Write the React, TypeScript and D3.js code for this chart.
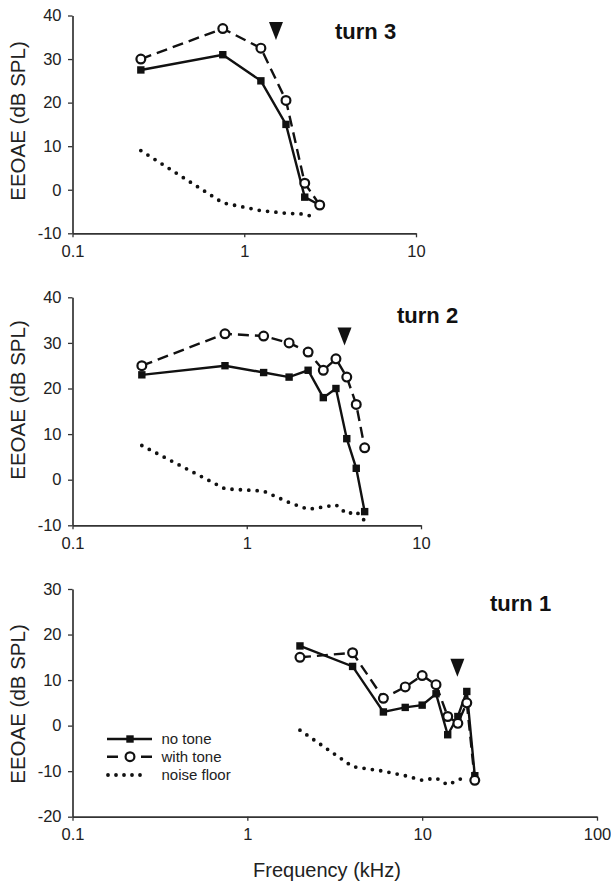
import * as d3 from "d3";
import { useEffect, useRef } from "react";

// turn 3 (apical)
const turn3Freq = [0.25, 0.75, 1.25, 1.75, 2.25, 2.75];
const turn3NoTone = [27.5, 31, 25, 15, -1.7, -3.5];
const turn3WithTone = [30, 37, 32.5, 20.5, 1.5, -3.5];
const turn3NoiseFreq = [0.25, 0.75, 1.25, 1.75, 2.25, 2.5];
const turn3Noise = [9, -3, -4.8, -5.4, -5.6, -6.2];

// turn 2
const turn2Freq = [0.25, 0.75, 1.25, 1.75, 2.25, 2.75, 3.25, 3.75, 4.25, 4.75];
const turn2NoTone = [23, 25, 23.5, 22.5, 24, 18, 20, 9, 2.5, -7];
const turn2WithTone = [25, 32, 31.5, 30, 28, 24, 26.5, 22.5, 16.5, 7];
const turn2NoiseFreq = [0.25, 0.75, 1.25, 1.75, 2.25, 2.75, 3.25, 3.75, 4.25, 4.75];
const turn2Noise = [7.5, -2, -2.5, -5, -6.5, -6, -5.5, -7.5, -7, -9];

// turn 1 (basal)
const turn1Freq = [2, 4, 6, 8, 10, 12, 14, 16, 18, 20];
const turn1NoTone = [17.5, 13, 3, 4, 4.5, 7, -2, 2, 7.5, -11];
const turn1WithTone = [15, 16, 6, 8.5, 11, 9, 2, 0.5, 5, -12];
const turn1NoiseFreq = [2, 4, 6, 8, 10, 12, 14, 16, 18];
const turn1Noise = [-1, -9, -10, -11, -12, -11.5, -13, -12, -11];

// arrowheads (tone frequency) and their level
const markerFreq = [1.53, 3.64, 15.9];
const markerLevel = [38.5, 33.4, 14.7];

const titles = ["turn 3", "turn 2", "turn 1"];
const xTicksShort = [0.1, 1, 10];
const xTicksLong = [0.1, 1, 10, 100];
const legendLabels = ["no tone", "with tone", "noise floor"];

const FONT = "'Liberation Sans', Arial, Helvetica, sans-serif";
const AXIS_X = 72.5;

const panels = [
  {
    title: titles[0], freq: turn3Freq, noTone: turn3NoTone, withTone: turn3WithTone,
    noiseFreq: turn3NoiseFreq, noise: turn3Noise, mf: markerFreq[0], ml: markerLevel[0],
    xTicks: xTicksShort, yMin: -10, yMax: 40, top: 15.5, bottom: 233.3, right: 416,
    titleX: 335, titleY: 39, labelY: 121,
  },
  {
    title: titles[1], freq: turn2Freq, noTone: turn2NoTone, withTone: turn2WithTone,
    noiseFreq: turn2NoiseFreq, noise: turn2Noise, mf: markerFreq[1], ml: markerLevel[1],
    xTicks: xTicksShort, yMin: -10, yMax: 40, top: 297.3, bottom: 525.3, right: 421,
    titleX: 397, titleY: 323, labelY: 400,
  },
  {
    title: titles[2], freq: turn1Freq, noTone: turn1NoTone, withTone: turn1WithTone,
    noiseFreq: turn1NoiseFreq, noise: turn1Noise, mf: markerFreq[2], ml: markerLevel[2],
    xTicks: xTicksLong, yMin: -20, yMax: 30, top: 589, bottom: 816.7, right: 597,
    titleX: 490, titleY: 611, labelY: 704, legend: true,
  },
];

const styleAxis = (g) => {
  g.attr("font-family", FONT).attr("font-size", 16.5);
  g.select(".domain").attr("stroke", "#333").attr("stroke-width", 1.7);
  g.selectAll(".tick line").attr("stroke", "#333").attr("stroke-width", 1.3);
  g.selectAll(".tick text").attr("fill", "#222");
};

const Panel = ({ p }) => {
  const gx = useRef(null);
  const gy = useRef(null);
  const x = d3.scaleLog([0.1, p.xTicks[p.xTicks.length - 1]], [AXIS_X, p.right]);
  const y = d3.scaleLinear([p.yMin, p.yMax], [p.bottom, p.top]);

  useEffect(() => {
    d3.select(gx.current)
      .call(
        d3.axisBottom(x).tickValues(p.xTicks).tickFormat((d) => String(d))
          .tickSize(4).tickSizeOuter(0).tickPadding(8),
      )
      .call(styleAxis);
    d3.select(gy.current)
      .call(
        d3.axisLeft(y).tickValues(d3.range(p.yMin, p.yMax + 1, 10))
          .tickFormat((d) => String(d)).tickSize(4.5).tickSizeOuter(0).tickPadding(6.5),
      )
      .call(styleAxis);
  }, [p]);

  const line = (fs) => d3.line().x((d, i) => x(fs[i])).y((d) => y(d));
  const tx = x(p.mf);
  const ty = y(p.ml);

  return (
    <g>
      <g ref={gx} transform={`translate(0,${p.bottom})`} />
      <g ref={gy} transform={`translate(${AXIS_X},0)`} />
      <text
        transform={`translate(24.5,${p.labelY}) rotate(-90)`}
        textAnchor="middle" fontFamily={FONT} fontSize={20.5} fill="#222"
      >
        EEOAE (dB SPL)
      </text>
      <text x={p.titleX} y={p.titleY} fontFamily={FONT} fontSize={22} fontWeight="bold" fill="#111">
        {p.title}
      </text>
      <path d={`M${tx - 7},${ty}L${tx + 7},${ty}L${tx},${ty + 18}Z`} fill="#111" />
      <path
        d={line(p.noiseFreq)(p.noise)} fill="none" stroke="#111" strokeWidth={3.8}
        strokeLinecap="round" strokeDasharray="0 8.4"
      />
      <path d={line(p.freq)(p.noTone)} fill="none" stroke="#111" strokeWidth={2.4} />
      <path
        d={line(p.freq)(p.withTone)} fill="none" stroke="#111" strokeWidth={2.4}
        strokeDasharray="11 6"
      />
      {p.noTone.map((d, i) => (
        <rect key={"s" + i} x={x(p.freq[i]) - 3.7} y={y(d) - 3.7} width={7.4} height={7.4} fill="#111" />
      ))}
      {p.withTone.map((d, i) => (
        <circle key={"c" + i} cx={x(p.freq[i])} cy={y(d)} r={4.4} fill="white" stroke="#111" strokeWidth={2.2} />
      ))}
      {p.legend && (
        <g fontFamily={FONT} fontSize={15} fill="#222">
          <line x1={107} x2={152} y1={739} y2={739} stroke="#111" strokeWidth={2.4} />
          <rect x={126.3} y={735.3} width={7.4} height={7.4} fill="#111" />
          <text x={161.5} y={744}>{legendLabels[0]}</text>
          <line x1={107} x2={152} y1={756.7} y2={756.7} stroke="#111" strokeWidth={2.4} strokeDasharray="11 23" />
          <circle cx={130} cy={756.7} r={4.4} fill="white" stroke="#111" strokeWidth={2.2} />
          <text x={161.5} y={761.5}>{legendLabels[1]}</text>
          <line x1={108} x2={148} y1={775} y2={775} stroke="#111" strokeWidth={3.8} strokeLinecap="round" strokeDasharray="0 8" />
          <text x={161.5} y={779.5}>{legendLabels[2]}</text>
        </g>
      )}
    </g>
  );
};

export default function App() {
  return (
    <svg
      width={611} height={881}
      style={{ position: "absolute", left: 0, top: 0, background: "white" }}
    >
      {panels.map((p, i) => (
        <Panel key={i} p={p} />
      ))}
      <text x={327} y={877} textAnchor="middle" fontFamily={FONT} fontSize={20} fill="#222">
        Frequency (kHz)
      </text>
    </svg>
  );
}
